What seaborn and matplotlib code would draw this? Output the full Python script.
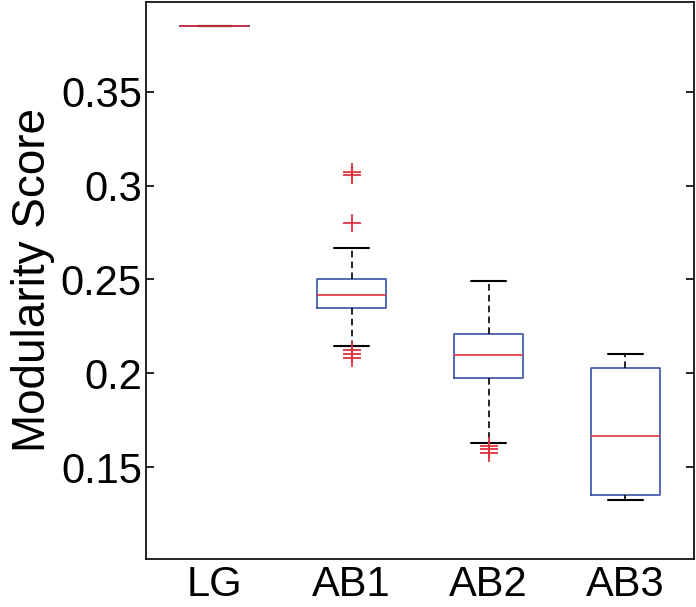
import matplotlib
matplotlib.use("Agg")
import matplotlib.pyplot as plt
import seaborn as sns

# Box statistics (MATLAB-style boxplot)
groups = ["LG", "AB1", "AB2", "AB3"]
medians = [0.385, 0.2415, 0.2100, 0.1665]
q1 = [0.385, 0.2350, 0.1977, 0.1352]
q3 = [0.385, 0.2505, 0.2210, 0.2030]
whisker_low = [0.385, 0.2143, 0.1627, 0.1326]
whisker_high = [0.385, 0.2670, 0.2490, 0.2105]
outliers = [
    [],
    [0.3073, 0.3058, 0.2803, 0.2125, 0.2104, 0.2083],
    [0.1612, 0.1595, 0.1575],
    [],
]

sns.set_style("ticks")
plt.rcParams["font.family"] = ["Liberation Sans", "DejaVu Sans"]
plt.rcParams["text.color"] = "black"
plt.rcParams["axes.labelcolor"] = "black"
plt.rcParams["xtick.color"] = "black"
plt.rcParams["ytick.color"] = "black"

box_blue = "#3a52a6"
med_red = "#e2323c"

stats = []
for i, g in enumerate(groups):
    stats.append({
        "label": g,
        "med": medians[i],
        "q1": q1[i],
        "q3": q3[i],
        "whislo": whisker_low[i],
        "whishi": whisker_high[i],
        "fliers": outliers[i],
    })

fig = plt.figure(figsize=(6.96, 6.07), dpi=100)
ax = fig.add_axes([0.21, 0.079, 0.787, 0.918])

ax.bxp(
    stats,
    positions=range(1, len(groups) + 1),
    widths=0.5,
    showfliers=True,
    boxprops=dict(color=box_blue, linewidth=1.2),
    medianprops=dict(color=med_red, linewidth=1.2),
    whiskerprops=dict(color="black", linewidth=1.2, linestyle=(0, (4, 2.5))),
    capprops=dict(color="black", linewidth=1.5),
    capwidths=0.25,
    flierprops=dict(marker="+", markeredgecolor=med_red, markersize=13,
                    markeredgewidth=1.3, linestyle="none"),
)

ax.set_xlim(0.5, 4.5)
ax.set_ylim(0.101, 0.398)
ax.set_yticks([0.15, 0.2, 0.25, 0.3, 0.35])
ax.set_yticklabels(["0.15", "0.2", "0.25", "0.3", "0.35"])
ax.set_xticks(range(1, len(groups) + 1))
ax.set_xticklabels(groups)
ax.set_ylabel("Modularity Score", fontsize=33, labelpad=4)

ax.tick_params(axis="y", direction="in", length=6, width=1.2, labelsize=30,
               right=True, pad=3)
ax.tick_params(axis="x", length=0, labelsize=30, pad=4)
for s in ax.spines.values():
    s.set_linewidth(1.2)
    s.set_color("black")

fig.savefig("out.png", dpi=100)
